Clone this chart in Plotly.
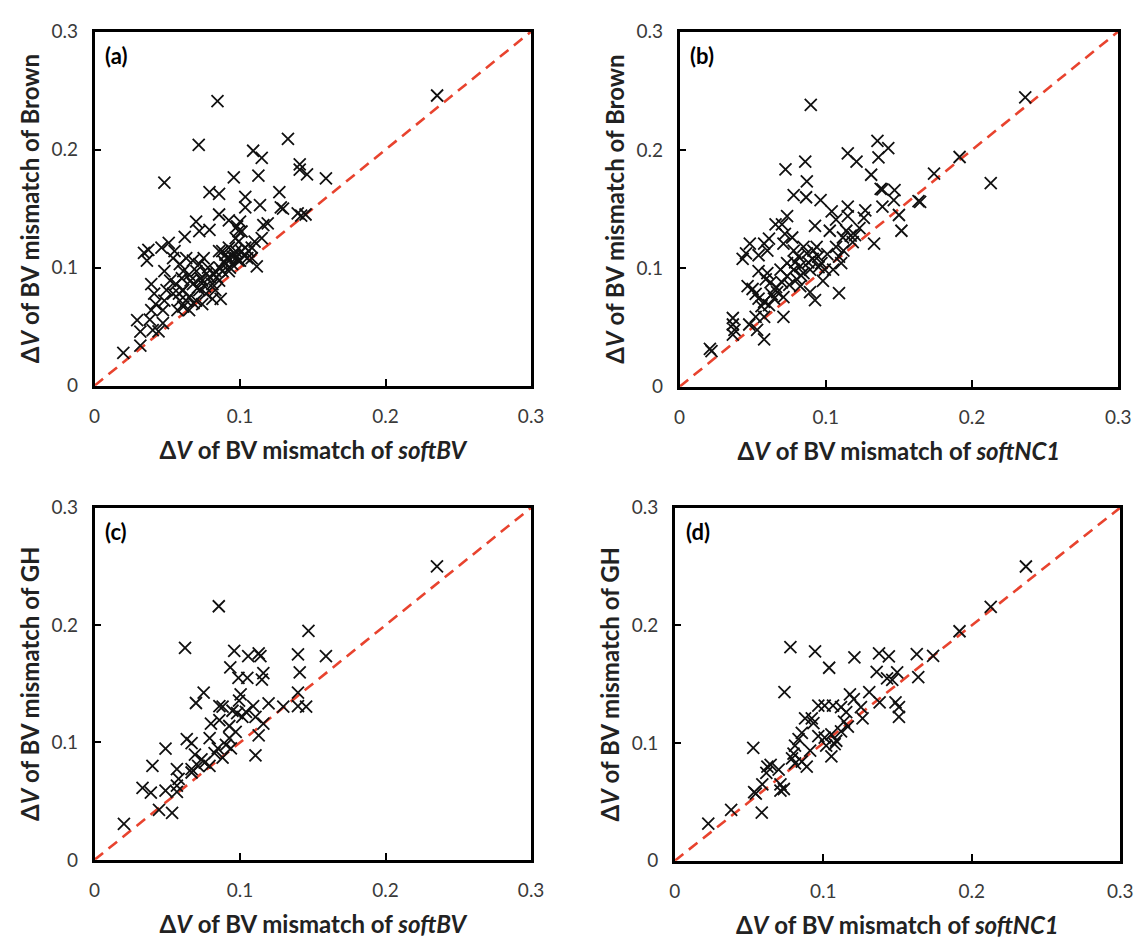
import plotly.graph_objects as go

# Panel (a): softBV (x) vs Brown (y)
a_x = [0.0198, 0.0315, 0.0293, 0.0315, 0.040, 0.044, 0.047, 0.038, 0.039, 0.042, 0.041, 0.039,
       0.047, 0.048, 0.034, 0.037, 0.036, 0.046, 0.051, 0.055, 0.048, 0.0716, 0.0845, 0.2354,
       0.062, 0.0698, 0.072, 0.079, 0.079, 0.0856, 0.0957, 0.0856, 0.0923, 0.100, 0.1036, 0.1036,
       0.1126, 0.1137, 0.109, 0.1149, 0.1329, 0.127, 0.128, 0.1295, 0.141, 0.141, 0.146, 0.159,
       0.1396, 0.142, 0.145, 0.116, 0.119, 0.1149, 0.110, 0.1115, 0.108, 0.101, 0.099, 0.097,
       0.0923, 0.0878, 0.0867, 0.054, 0.0586, 0.061, 0.052, 0.056, 0.061, 0.054, 0.0586, 0.061,
       0.065, 0.057, 0.065, 0.0676, 0.065, 0.070, 0.072, 0.074, 0.0766, 0.079, 0.081, 0.083,
       0.0856, 0.0878, 0.090, 0.0923, 0.0946, 0.097, 0.099, 0.101, 0.1036, 0.106, 0.0856, 0.090,
       0.0923, 0.097, 0.099, 0.098, 0.072, 0.075, 0.0676, 0.063, 0.0698, 0.074, 0.081, 0.083,
       0.0495, 0.048, 0.058, 0.063, 0.068, 0.071, 0.076, 0.078, 0.082, 0.086, 0.089, 0.093,
       0.095, 0.1, 0.103, 0.105, 0.108, 0.06, 0.066, 0.073, 0.077, 0.084, 0.091, 0.096]
a_y = [0.0278, 0.0339, 0.0556, 0.0458, 0.047, 0.046, 0.053, 0.056, 0.064, 0.069, 0.078, 0.086,
       0.064, 0.097, 0.1125, 0.115, 0.106, 0.117, 0.121, 0.114, 0.172, 0.204, 0.241, 0.2458,
       0.126, 0.139, 0.131, 0.132, 0.164, 0.1625, 0.1764, 0.145, 0.140, 0.139, 0.160, 0.151,
       0.178, 0.153, 0.199, 0.193, 0.209, 0.164, 0.151, 0.150, 0.1875, 0.183, 0.179, 0.1756,
       0.146, 0.144, 0.145, 0.136, 0.1375, 0.125, 0.122, 0.101, 0.108, 0.1306, 0.122, 0.114,
       0.108, 0.114, 0.0736, 0.108, 0.103, 0.097, 0.089, 0.086, 0.081, 0.078, 0.072, 0.067,
       0.064, 0.064, 0.075, 0.086, 0.094, 0.097, 0.081, 0.089, 0.078, 0.092, 0.086, 0.097,
       0.089, 0.097, 0.103, 0.097, 0.103, 0.108, 0.106, 0.114, 0.117, 0.114, 0.114, 0.111,
       0.117, 0.125, 0.131, 0.135, 0.103, 0.108, 0.106, 0.108, 0.072, 0.069, 0.0736, 0.081,
       0.081, 0.072, 0.078, 0.072, 0.07, 0.083, 0.084, 0.1, 0.094, 0.1, 0.105, 0.1,
       0.109, 0.106, 0.11, 0.108, 0.117, 0.091, 0.089, 0.091, 0.095, 0.092, 0.108, 0.112]

# Panel (b): softNC1 (x) vs Brown (y)
b_x = [0.0207, 0.0218, 0.0364, 0.0364, 0.0375, 0.0364, 0.0476, 0.053, 0.0578, 0.052, 0.0578,
       0.071, 0.0431, 0.0454, 0.048, 0.054, 0.0578, 0.0611, 0.060, 0.054, 0.060, 0.0589, 0.0622,
       0.0465, 0.0499, 0.052, 0.054, 0.0578, 0.0611, 0.0645, 0.0667, 0.071, 0.070, 0.0656, 0.072,
       0.071, 0.077, 0.0735, 0.0724, 0.078, 0.0859, 0.087, 0.0865, 0.0897, 0.0926, 0.0964, 0.104,
       0.1027, 0.107, 0.115, 0.115, 0.115, 0.121, 0.127, 0.126, 0.123, 0.131, 0.1353, 0.136,
       0.1427, 0.1375, 0.1387, 0.1387, 0.147, 0.1465, 0.150, 0.1517, 0.133, 0.1634, 0.1645, 0.174,
       0.1915, 0.2128, 0.2364, 0.109, 0.0926, 0.0892, 0.078, 0.0813, 0.0847, 0.087, 0.0915,
       0.0948, 0.097, 0.0937, 0.0993, 0.098, 0.105, 0.1105, 0.107, 0.1117, 0.114, 0.117, 0.1184,
       0.109, 0.078, 0.0802, 0.0825, 0.0847, 0.0735, 0.070, 0.0825, 0.0892, 0.0735, 0.069,
       0.063, 0.066, 0.075, 0.079, 0.083, 0.088, 0.091, 0.095, 0.101, 0.112, 0.12, 0.056]
b_y = [0.032, 0.030, 0.058, 0.0525, 0.048, 0.044, 0.0525, 0.048, 0.040, 0.059, 0.059,
       0.059, 0.108, 0.1126, 0.1208, 0.111, 0.1208, 0.125, 0.115, 0.0975, 0.096, 0.0907, 0.088,
       0.085, 0.0825, 0.0784, 0.0743, 0.0716, 0.0689, 0.0743, 0.0798, 0.0757, 0.137, 0.137, 0.129,
       0.1208, 0.126, 0.144, 0.1836, 0.1617, 0.190, 0.1735, 0.160, 0.238, 0.1358, 0.1576, 0.148,
       0.1317, 0.141, 0.152, 0.144, 0.197, 0.190, 0.149, 0.1426, 0.134, 0.179, 0.2077, 0.1937,
       0.2014, 0.167, 0.1667, 0.152, 0.166, 0.1576, 0.145, 0.1317, 0.1208, 0.1568, 0.156, 0.180,
       0.194, 0.172, 0.2443, 0.079, 0.073, 0.0798, 0.115, 0.1098, 0.118, 0.1126, 0.115,
       0.1098, 0.1044, 0.118, 0.0989, 0.0893, 0.0989, 0.1044, 0.118, 0.126, 0.1317, 0.1276, 0.122,
       0.1098, 0.0989, 0.0907, 0.085, 0.096, 0.0934, 0.088, 0.1019, 0.0989, 0.1044, 0.0989,
       0.078, 0.084, 0.086, 0.105, 0.094, 0.105, 0.108, 0.101, 0.112, 0.115, 0.128, 0.068]

# Panel (c): softBV (x) vs GH (y)
c_x = [0.2353, 0.0854, 0.147, 0.0622, 0.096, 0.1056, 0.1128, 0.114, 0.1398, 0.159, 0.0933,
       0.0989, 0.105, 0.116, 0.115, 0.141, 0.075, 0.0697, 0.1004, 0.0993, 0.0858, 0.088, 0.109,
       0.1196, 0.1297, 0.1398, 0.1398, 0.1454, 0.0948, 0.098, 0.1016, 0.104, 0.1106, 0.116,
       0.1128, 0.1106, 0.0858, 0.080, 0.0926, 0.097, 0.0791, 0.0926, 0.0903, 0.0937, 0.0847,
       0.0825, 0.088, 0.0634, 0.0667, 0.0488, 0.069, 0.0735, 0.0757, 0.079, 0.0712, 0.0667,
       0.0667, 0.0398, 0.0566, 0.0578, 0.0566, 0.033, 0.0387, 0.0488, 0.0566, 0.0443, 0.0533,
       0.0202]
c_y = [0.250, 0.216, 0.195, 0.1806, 0.178, 0.1736, 0.1758, 0.1736, 0.175, 0.1736, 0.164,
       0.155, 0.155, 0.159, 0.1536, 0.1597, 0.1425, 0.1336, 0.141, 0.1356, 0.131, 0.1306, 0.131,
       0.1333, 0.1306, 0.1425, 0.131, 0.1306, 0.127, 0.125, 0.1217, 0.126, 0.1217, 0.116,
       0.106, 0.089, 0.119, 0.116, 0.114, 0.109, 0.1036, 0.1036, 0.098, 0.095, 0.095,
       0.091, 0.087, 0.1028, 0.0994, 0.0947, 0.0897, 0.0856, 0.0828, 0.080, 0.080, 0.0772,
       0.0744, 0.080, 0.0772, 0.0689, 0.0633, 0.0614, 0.0572, 0.059, 0.0578, 0.0425, 0.040,
       0.0306]

# Panel (d): softNC1 (x) vs GH (y)
d_x = [0.2365, 0.2128, 0.1918, 0.0779, 0.0945, 0.121, 0.104, 0.1376, 0.1442, 0.163, 0.174,
       0.136, 0.1498, 0.143, 0.1465, 0.164, 0.0739, 0.118, 0.1206, 0.131, 0.138, 0.1487, 0.151,
       0.151, 0.0967, 0.101, 0.1066, 0.112, 0.1155, 0.1254, 0.1265, 0.114, 0.1166, 0.112,
       0.0878, 0.0923, 0.0934, 0.0856, 0.0834, 0.0967, 0.101, 0.1055, 0.1088, 0.102, 0.1077,
       0.0912, 0.081, 0.080, 0.079, 0.081, 0.0856, 0.0889, 0.1055, 0.0529, 0.0624, 0.0646,
       0.070, 0.0617, 0.0712, 0.0735, 0.059, 0.0535, 0.0546, 0.038, 0.0586, 0.0226, 0.0712]
d_y = [0.250, 0.2158, 0.195, 0.1815, 0.178, 0.1728, 0.164, 0.1763, 0.1736, 0.1755, 0.174,
       0.1605, 0.160, 0.155, 0.1537, 0.156, 0.1433, 0.1414, 0.1373, 0.1433, 0.1346, 0.1346, 0.1305,
       0.1223, 0.1319, 0.1319, 0.1319, 0.1305, 0.1264, 0.1305, 0.121, 0.1183, 0.114, 0.110,
       0.121, 0.121, 0.117, 0.1087, 0.1033, 0.106, 0.1046, 0.1074, 0.102, 0.0978, 0.0992,
       0.0937, 0.0978, 0.091, 0.087, 0.0828, 0.0842, 0.080, 0.0888, 0.0959, 0.080, 0.0815,
       0.0774, 0.0747, 0.065, 0.061, 0.065, 0.0583, 0.057, 0.0433, 0.041, 0.0316, 0.0597]

tick_vals = [0, 0.1, 0.2, 0.3]
tick_text = ["0", "0.1", "0.2", "0.3"]
parity_line = [0, 0.3]

panels = [
    ("(a)", a_x, a_y, "<i>softBV</i>", "Brown"),
    ("(b)", b_x, b_y, "<i>softNC1</i>", "Brown"),
    ("(c)", c_x, c_y, "<i>softBV</i>", "GH"),
    ("(d)", d_x, d_y, "<i>softNC1</i>", "GH"),
]

W, H = 1145, 945
# pixel boxes of each plot area: (left, right, top, bottom)
boxes = [(90, 534, 20, 383), (685, 1131, 20, 384), (90, 534, 508, 869), (680, 1133, 508, 870)]

FONT = "Lato, Open Sans, sans-serif"
fig = go.Figure()

for i, ((label, xs, ys, xname, yname), (l, r, t, b)) in enumerate(zip(panels, boxes)):
    n = "" if i == 0 else str(i + 1)
    xa, ya = "x" + n, "y" + n
    fig.add_trace(go.Scatter(
        x=parity_line, y=parity_line, mode="lines", xaxis=xa, yaxis=ya,
        line=dict(color="#e8432e", width=2.6, dash="11px,7px"), showlegend=False, hoverinfo="skip"))
    fig.add_trace(go.Scatter(
        x=xs, y=ys, mode="markers", xaxis=xa, yaxis=ya, showlegend=False,
        marker=dict(symbol="x-thin", size=12, line=dict(color="#111111", width=1.8))))
    axis_common = dict(
        range=[0, 0.3], tickvals=tick_vals, ticktext=tick_text, ticks="inside", ticklen=7,
        tickwidth=2, tickcolor="black", showline=True, linecolor="black", linewidth=2.5,
        mirror=True, showgrid=False, zeroline=False,
        tickfont=dict(family=FONT, size=19, color="#3a3a3a"))
    fig.update_layout({
        "xaxis" + n: dict(
            axis_common, domain=[l / W, r / W], anchor=ya, ticklabelstandoff=12,
            title=dict(text="<b>Δ<i>V</i> of BV mismatch of " + xname + "</b>",
                       font=dict(family=FONT, size=24, color="#222222"), standoff=16)),
        "yaxis" + n: dict(
            axis_common, domain=[1 - b / H, 1 - t / H], anchor=xa, ticklabelstandoff=10,
            title=dict(text="<b>Δ<i>V</i> of BV mismatch of " + yname + "</b>",
                       font=dict(family=FONT, size=24, color="#222222"), standoff=6)),
    })
    fig.add_annotation(
        text="<b>" + label + "</b>", xref=xa + " domain", yref=ya + " domain",
        x=0.02, y=0.975, xanchor="left", yanchor="top", showarrow=False,
        font=dict(family=FONT, size=22, color="black"))

fig.update_layout(
    width=W, height=H, margin=dict(l=0, r=0, t=0, b=0),
    paper_bgcolor="white", plot_bgcolor="white")

fig.write_html("out.html")
